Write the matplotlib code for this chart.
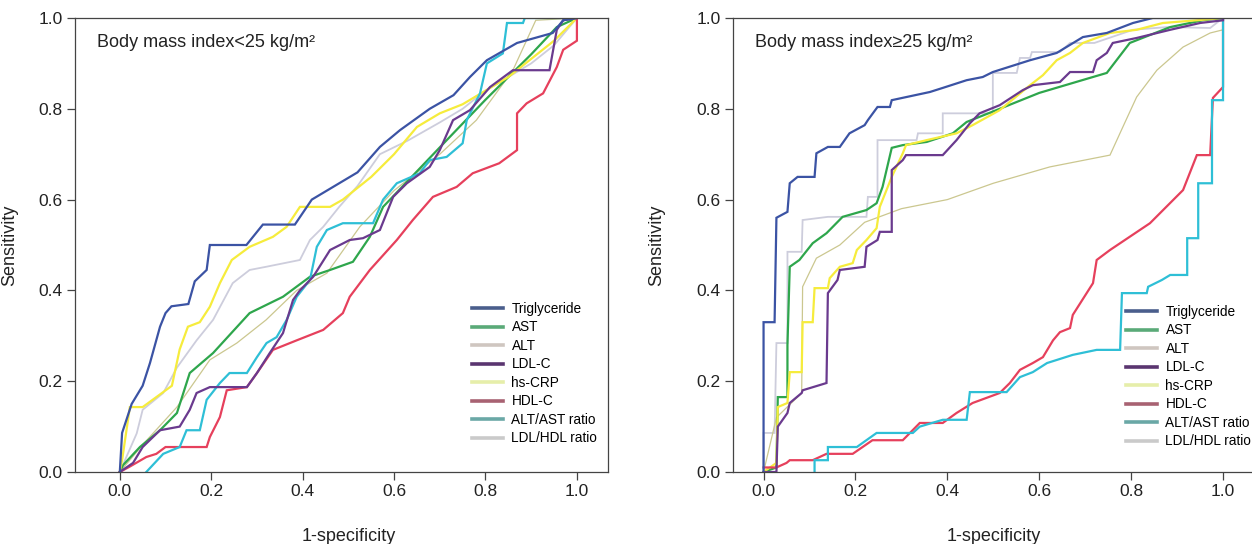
import matplotlib
matplotlib.use('Agg')
import matplotlib.pyplot as plt
from matplotlib.lines import Line2D

plt.rcParams['font.family'] = ['Liberation Sans', 'DejaVu Sans']

labels = ['Triglyceride', 'AST', 'ALT', 'LDL-C', 'hs-CRP', 'HDL-C', 'ALT/AST ratio', 'LDL/HDL ratio']
line_colors = ['#3b53a4', '#2ea64c', '#cbc78f', '#6a3a8e', '#f6ec3c', '#e6405c', '#2ebfd6', '#cdcddc']
legend_colors = ['#4a5e8c', '#5aaa78', '#cfc6c0', '#5a3570', '#e6eeaa', '#a86272', '#6aa8a6', '#cacaca']
line_widths = [1.6, 1.6, 0.9, 1.6, 1.6, 1.6, 1.6, 1.3]
draw_order = [7, 2, 1, 4, 5, 6, 3, 0]

# ---- BMI < 25 ----
lo_tg_x = [0, 0.005, 0.026, 0.05, 0.066, 0.088, 0.10, 0.113, 0.15, 0.164, 0.19, 0.197, 0.277, 0.313, 0.383, 0.42,
           0.47, 0.52, 0.569, 0.613, 0.678, 0.73, 0.766, 0.803, 0.869, 0.947, 0.97, 1.0]
lo_tg_y = [0, 0.086, 0.15, 0.19, 0.24, 0.32, 0.35, 0.365, 0.37, 0.42, 0.445, 0.50, 0.50, 0.545, 0.545, 0.60,
           0.63, 0.66, 0.716, 0.753, 0.80, 0.83, 0.87, 0.907, 0.945, 0.967, 0.995, 1.0]
lo_ast_x = [0, 0.007, 0.044, 0.088, 0.125, 0.153, 0.204, 0.284, 0.357, 0.416, 0.46, 0.51, 0.547, 0.576, 0.70,
            0.80, 0.90, 0.956, 1.0]
lo_ast_y = [0, 0.015, 0.055, 0.092, 0.13, 0.218, 0.262, 0.35, 0.386, 0.43, 0.445, 0.463, 0.518, 0.584, 0.715,
            0.82, 0.92, 0.98, 1.0]
lo_alt_x = [0, 0.05, 0.125, 0.197, 0.256, 0.32, 0.387, 0.453, 0.525, 0.6, 0.7, 0.78, 0.86, 0.91, 1.0]
lo_alt_y = [0, 0.06, 0.143, 0.247, 0.284, 0.335, 0.40, 0.438, 0.54, 0.62, 0.70, 0.775, 0.885, 0.995, 1.0]
lo_ldl_x = [0, 0.029, 0.05, 0.088, 0.131, 0.153, 0.168, 0.197, 0.278, 0.30, 0.328, 0.357, 0.379, 0.394, 0.423,
            0.46, 0.503, 0.532, 0.569, 0.598, 0.628, 0.678, 0.70, 0.729, 0.766, 0.81, 0.86, 0.94, 0.956, 0.97, 1.0]
lo_ldl_y = [0, 0.02, 0.055, 0.092, 0.10, 0.137, 0.174, 0.187, 0.187, 0.218, 0.262, 0.306, 0.379, 0.40, 0.43,
            0.489, 0.511, 0.515, 0.533, 0.606, 0.636, 0.672, 0.709, 0.775, 0.797, 0.848, 0.885, 0.885, 0.974, 0.995, 1.0]
lo_crp_x = [0, 0.005, 0.022, 0.05, 0.114, 0.131, 0.149, 0.175, 0.197, 0.219, 0.245, 0.284, 0.335, 0.365, 0.394,
            0.46, 0.488, 0.55, 0.60, 0.65, 0.70, 0.75, 0.80, 0.85, 0.90, 0.95, 1.0]
lo_crp_y = [0, 0.026, 0.143, 0.143, 0.19, 0.27, 0.32, 0.33, 0.364, 0.416, 0.467, 0.496, 0.518, 0.54, 0.584,
            0.584, 0.60, 0.65, 0.70, 0.76, 0.79, 0.81, 0.84, 0.87, 0.91, 0.95, 1.0]
lo_hdl_x = [0, 0.022, 0.058, 0.08, 0.10, 0.19, 0.197, 0.219, 0.234, 0.278, 0.30, 0.335, 0.387, 0.445, 0.488,
            0.503, 0.547, 0.606, 0.641, 0.685, 0.737, 0.772, 0.83, 0.869, 0.869, 0.89, 0.926, 0.956, 0.97, 1.0, 1.0]
lo_hdl_y = [0, 0.012, 0.033, 0.04, 0.055, 0.055, 0.077, 0.121, 0.18, 0.187, 0.218, 0.269, 0.29, 0.313, 0.35,
            0.386, 0.445, 0.511, 0.555, 0.606, 0.628, 0.658, 0.68, 0.709, 0.79, 0.812, 0.834, 0.892, 0.93, 0.95, 1.0]
lo_altast_x = [0.058, 0.095, 0.131, 0.146, 0.175, 0.19, 0.219, 0.24, 0.278, 0.30, 0.321, 0.343, 0.365, 0.387,
               0.416, 0.431, 0.453, 0.488, 0.554, 0.576, 0.606, 0.656, 0.678, 0.715, 0.75, 0.759, 0.788, 0.803,
               0.838, 0.847, 0.882, 0.886, 1.0]
lo_altast_y = [0, 0.04, 0.055, 0.092, 0.092, 0.159, 0.196, 0.218, 0.218, 0.253, 0.284, 0.297, 0.335, 0.386,
               0.423, 0.496, 0.533, 0.548, 0.548, 0.60, 0.636, 0.658, 0.687, 0.694, 0.724, 0.775, 0.834, 0.90,
               0.922, 0.989, 0.989, 1.0, 1.0]
lo_ratio_x = [0, 0.037, 0.05, 0.095, 0.125, 0.168, 0.204, 0.247, 0.284, 0.32, 0.394, 0.416, 0.445, 0.48, 0.52,
              0.569, 0.63, 0.70, 0.75, 0.80, 0.85, 0.90, 0.95, 1.0]
lo_ratio_y = [0, 0.085, 0.137, 0.174, 0.23, 0.29, 0.335, 0.416, 0.445, 0.452, 0.467, 0.511, 0.54, 0.584, 0.63,
              0.70, 0.73, 0.77, 0.80, 0.84, 0.87, 0.90, 0.94, 1.0]

# ---- BMI >= 25 ----
hi_tg_x = [0, 0, 0.024, 0.028, 0.052, 0.057, 0.074, 0.111, 0.115, 0.14, 0.166, 0.187, 0.22, 0.227, 0.248, 0.275,
           0.279, 0.362, 0.39, 0.442, 0.477, 0.499, 0.58, 0.638, 0.695, 0.747, 0.804, 0.847, 1.0]
hi_tg_y = [0, 0.33, 0.33, 0.56, 0.573, 0.636, 0.65, 0.65, 0.702, 0.716, 0.716, 0.746, 0.764, 0.775, 0.804, 0.804,
           0.819, 0.837, 0.846, 0.863, 0.87, 0.881, 0.907, 0.923, 0.958, 0.967, 0.989, 1.0, 1.0]
hi_ast_x = [0, 0.028, 0.031, 0.052, 0.052, 0.057, 0.078, 0.107, 0.137, 0.172, 0.224, 0.246, 0.259, 0.279, 0.303,
            0.355, 0.412, 0.442, 0.514, 0.6, 0.7, 0.747, 0.797, 0.885, 0.956, 1.0]
hi_ast_y = [0, 0.01, 0.165, 0.165, 0.28, 0.452, 0.467, 0.504, 0.526, 0.562, 0.577, 0.592, 0.628, 0.714, 0.72,
            0.727, 0.746, 0.771, 0.80, 0.835, 0.865, 0.879, 0.945, 0.98, 0.995, 1.0]
hi_alt_x = [0, 0.028, 0.083, 0.085, 0.115, 0.166, 0.22, 0.3, 0.4, 0.5, 0.623, 0.754, 0.782, 0.812, 0.856, 0.913,
            0.972, 1.0, 1.0]
hi_alt_y = [0, 0.12, 0.174, 0.408, 0.471, 0.50, 0.55, 0.58, 0.60, 0.636, 0.672, 0.698, 0.76, 0.826, 0.885, 0.936,
            0.967, 0.974, 1.0]
hi_ldl_x = [0, 0.028, 0.031, 0.052, 0.057, 0.083, 0.085, 0.137, 0.14, 0.161, 0.166, 0.22, 0.224, 0.248, 0.253,
            0.279, 0.279, 0.303, 0.31, 0.39, 0.42, 0.449, 0.47, 0.514, 0.564, 0.586, 0.645, 0.667, 0.717, 0.725,
            0.747, 0.76, 0.812, 0.885, 0.95, 1.0, 1.0]
hi_ldl_y = [0, 0.0, 0.1, 0.13, 0.152, 0.174, 0.18, 0.196, 0.394, 0.423, 0.445, 0.452, 0.496, 0.511, 0.529,
            0.529, 0.665, 0.687, 0.698, 0.698, 0.731, 0.768, 0.79, 0.808, 0.841, 0.852, 0.859, 0.881, 0.881, 0.907,
            0.923, 0.945, 0.956, 0.974, 0.989, 0.995, 1.0]
hi_crp_x = [0, 0.028, 0.031, 0.052, 0.057, 0.083, 0.085, 0.107, 0.111, 0.14, 0.144, 0.166, 0.194, 0.203, 0.224,
            0.246, 0.253, 0.279, 0.303, 0.31, 0.355, 0.42, 0.455, 0.514, 0.58, 0.608, 0.638, 0.667, 0.695, 0.754,
            0.812, 0.869, 0.943, 1.0]
hi_crp_y = [0, 0.02, 0.143, 0.152, 0.22, 0.22, 0.33, 0.33, 0.405, 0.405, 0.427, 0.452, 0.46, 0.489, 0.511,
            0.537, 0.584, 0.65, 0.702, 0.72, 0.731, 0.746, 0.764, 0.797, 0.852, 0.874, 0.907, 0.923, 0.945, 0.967,
            0.974, 0.989, 0.995, 1.0]
hi_hdl_x = [0, 0.028, 0.05, 0.057, 0.107, 0.137, 0.194, 0.237, 0.303, 0.34, 0.39, 0.42, 0.455, 0.514, 0.536,
            0.558, 0.586, 0.608, 0.63, 0.645, 0.667, 0.673, 0.717, 0.725, 0.754, 0.841, 0.913, 0.943, 0.972, 0.978,
            1.0, 1.0]
hi_hdl_y = [0.01, 0.01, 0.02, 0.026, 0.026, 0.04, 0.04, 0.07, 0.07, 0.108, 0.108, 0.13, 0.152, 0.174, 0.196,
            0.225, 0.24, 0.253, 0.29, 0.308, 0.317, 0.346, 0.416, 0.467, 0.489, 0.548, 0.621, 0.698, 0.698, 0.824,
            0.848, 1.0]
hi_altast_x = [0.111, 0.111, 0.14, 0.14, 0.203, 0.246, 0.325, 0.34, 0.39, 0.442, 0.449, 0.529, 0.558, 0.586,
               0.617, 0.673, 0.725, 0.776, 0.78, 0.834, 0.837, 0.867, 0.885, 0.922, 0.922, 0.946, 0.946, 0.976,
               0.976, 1.0, 1.0]
hi_altast_y = [0, 0.026, 0.026, 0.055, 0.055, 0.086, 0.086, 0.1, 0.115, 0.115, 0.176, 0.176, 0.209, 0.22,
               0.24, 0.258, 0.269, 0.269, 0.394, 0.394, 0.408, 0.423, 0.434, 0.434, 0.515, 0.515, 0.636, 0.636,
               0.819, 0.819, 1.0]
hi_ratio_x = [0, 0, 0.024, 0.028, 0.052, 0.052, 0.083, 0.085, 0.14, 0.224, 0.227, 0.248, 0.248, 0.333, 0.336,
              0.39, 0.39, 0.499, 0.499, 0.551, 0.558, 0.58, 0.584, 0.645, 0.667, 0.72, 0.804, 0.878, 0.972, 1.0]
hi_ratio_y = [0, 0.086, 0.086, 0.284, 0.284, 0.485, 0.485, 0.555, 0.562, 0.562, 0.606, 0.606, 0.731, 0.731,
              0.746, 0.746, 0.79, 0.79, 0.879, 0.879, 0.912, 0.912, 0.925, 0.925, 0.945, 0.945, 0.974, 0.98,
              0.978, 1.0]

lo_series = [(lo_tg_x, lo_tg_y), (lo_ast_x, lo_ast_y), (lo_alt_x, lo_alt_y), (lo_ldl_x, lo_ldl_y),
             (lo_crp_x, lo_crp_y), (lo_hdl_x, lo_hdl_y), (lo_altast_x, lo_altast_y), (lo_ratio_x, lo_ratio_y)]
hi_series = [(hi_tg_x, hi_tg_y), (hi_ast_x, hi_ast_y), (hi_alt_x, hi_alt_y), (hi_ldl_x, hi_ldl_y),
             (hi_crp_x, hi_crp_y), (hi_hdl_x, hi_hdl_y), (hi_altast_x, hi_altast_y), (hi_ratio_x, hi_ratio_y)]

W, H = 1252, 544
fig = plt.figure(figsize=(W / 100, H / 100), dpi=100)


def px_axes(x0, x1, y0, y1):
    # pixel box (top-left origin) -> figure fraction
    return fig.add_axes([x0 / W, 1 - y1 / H, (x1 - x0) / W, (y1 - y0) / H])


panels = [
    dict(box=(75, 608, 18, 472), xlim=(-0.098, 1.068), series=lo_series, xlab_x=0.513,
         title='Body mass index<25 kg/m\u00b2', leg=(472, 302), ylab_x=-0.107),
    dict(box=(733, 1254, 18, 472), xlim=(-0.0665, 1.0674), series=hi_series, xlab_x=0.5,
         title='Body mass index\u226525 kg/m\u00b2', leg=(1126, 305), ylab_x=-0.13),
]

for p in panels:
    ax = px_axes(*p['box'])
    for i in draw_order:
        xs, ys = p['series'][i]
        ax.plot(xs, ys, color=line_colors[i], lw=line_widths[i], solid_joinstyle='miter')
    ax.set_xlim(*p['xlim'])
    ax.set_ylim(0, 1)
    ticks = [0, 0.2, 0.4, 0.6, 0.8, 1.0]
    ax.set_xticks(ticks)
    ax.set_yticks(ticks)
    ax.set_xticklabels(['%.1f' % t for t in ticks])
    ax.set_yticklabels(['%.1f' % t for t in ticks])
    ax.tick_params(direction='out', length=6, width=0.9, color='#444444', labelsize=12.5,
                   labelcolor='#222222', pad=3)
    for s in ax.spines.values():
        s.set_color('#444444')
        s.set_linewidth(0.9)
    ax.set_ylabel('Sensitivity', fontsize=13, color='#222222')
    ax.set_xlabel('1-specificity', fontsize=13, color='#222222')
    ax.yaxis.set_label_coords(p['ylab_x'], 0.5)
    ax.xaxis.set_label_coords(p['xlab_x'], -0.123)
    ax.text(22 / (p['box'][1] - p['box'][0]), 0.945, p['title'], transform=ax.transAxes,
            fontsize=13, color='#222222', va='center', ha='left')

    handles = [Line2D([], [], color=legend_colors[i], lw=2.6) for i in range(8)]
    lx, ly = p['leg']
    ax.legend(handles, labels, loc='upper left', bbox_to_anchor=(lx / W, 1 - ly / H),
              bbox_transform=fig.transFigure, frameon=False, fontsize=9.8, handlelength=2.3,
              handletextpad=0.6, labelspacing=0.33, borderpad=0, borderaxespad=0)

fig.savefig('out.png', dpi=100)
